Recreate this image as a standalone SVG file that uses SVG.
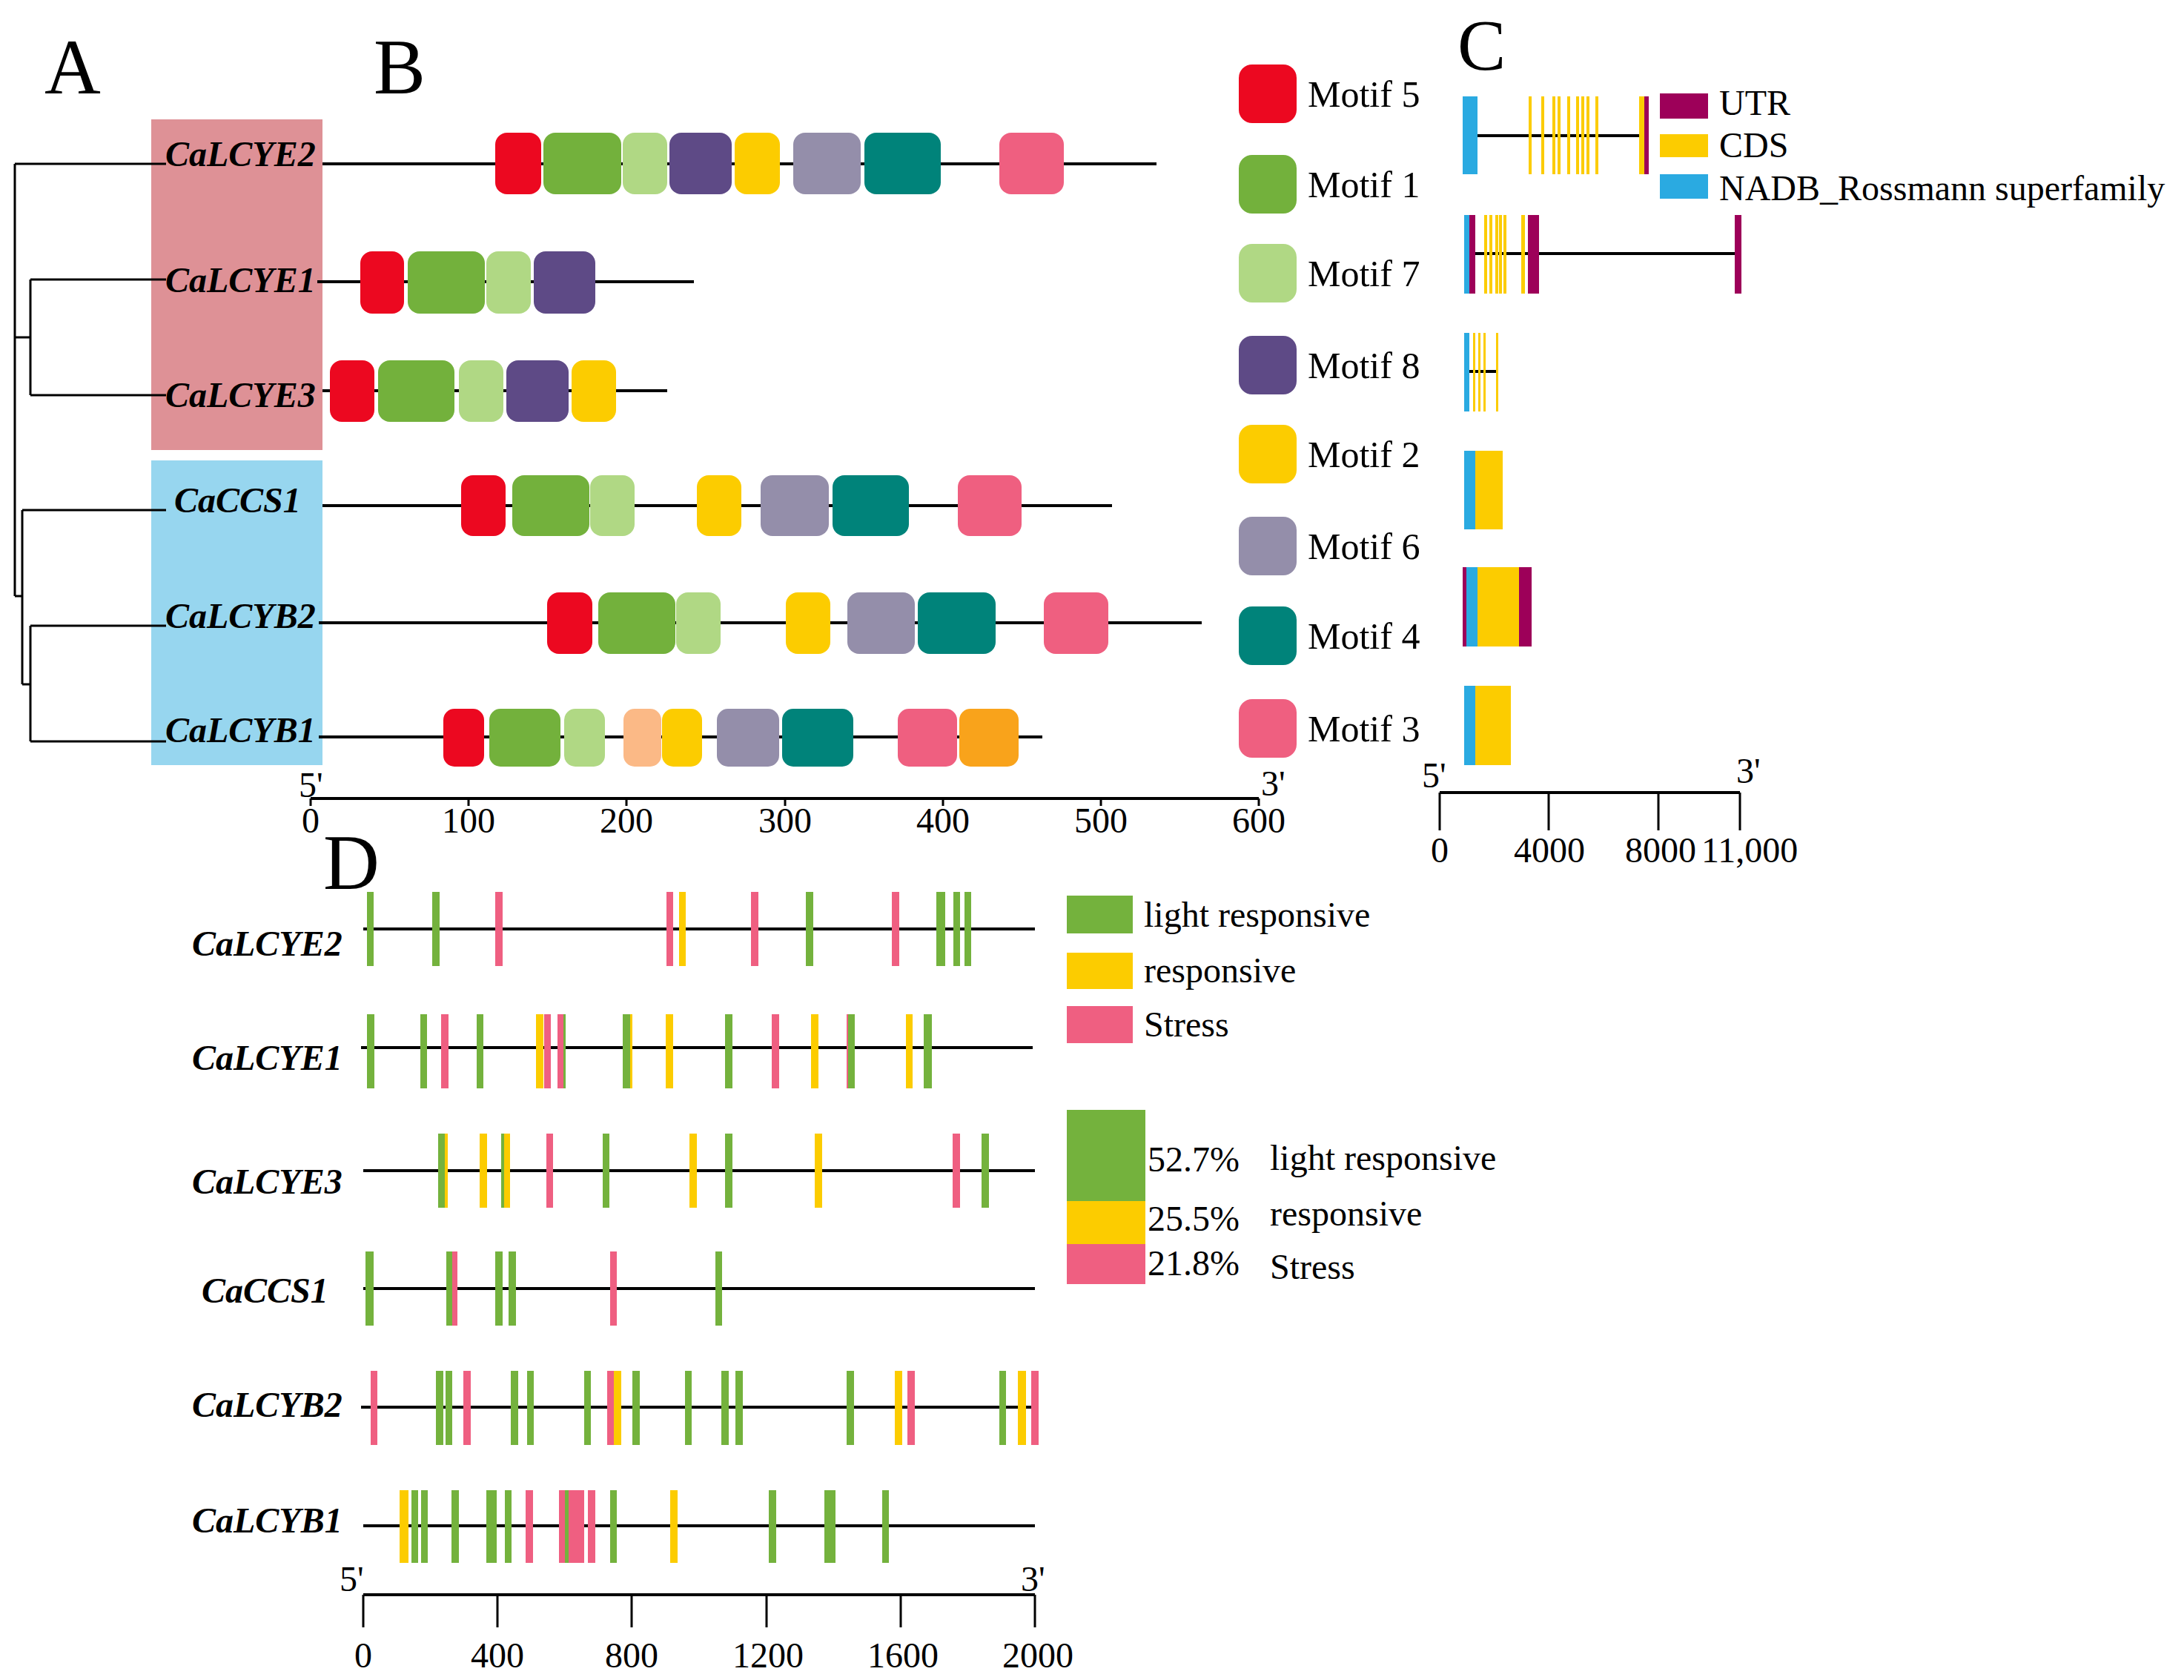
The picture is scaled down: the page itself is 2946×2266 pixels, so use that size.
<svg xmlns="http://www.w3.org/2000/svg" width="2946" height="2266" viewBox="0 0 2946 2266">
<style>
text{font-family:"Liberation Serif","Times New Roman",serif;fill:#000}
.pl{font-size:105px}
.gn{font-size:48px;font-weight:bold;font-style:italic}
.lg{font-size:50px}
.ax{font-size:48px}
.ln{stroke:#000;stroke-width:4;fill:none}
.tr{stroke:#000;stroke-width:3;fill:none}
.m5{fill:#EC0820}.m1{fill:#73B13C}.m7{fill:#B0D884}.m8{fill:#5E4A86}.m2{fill:#FCCC00}.m6{fill:#948EAA}.m4{fill:#00837A}.m3{fill:#EF5F80}.m9{fill:#FBB986}.m10{fill:#F9A31B}
.g{fill:#74B23D}.y{fill:#FCCC00}.p{fill:#EF5F81}.u{fill:#9D0059}.b{fill:#2AAAE1}
</style>
<rect width="2946" height="2266" fill="#fff"/>

<!-- panel letters -->
<text class="pl" x="60" y="126">A</text>
<text class="pl" x="504" y="126">B</text>
<text class="pl" x="1966" y="94" style="font-size:98px">C</text>
<text class="pl" x="436" y="1199">D</text>

<!-- clade boxes -->
<rect id="clade-E" x="204" y="161" width="231" height="446" fill="#DE9196"/>
<rect id="clade-B" x="204" y="621" width="231" height="411" fill="#97D6EF"/>

<!-- tree connectors -->
<g id="connectors" class="tr">
<path d="M20,221 V804"/>
<path d="M20,221 H224"/>
<path d="M20,455 H41"/>
<path d="M41,377 V533"/>
<path d="M41,377 H224"/>
<path d="M41,533 H224"/>
<path d="M20,804 H30"/>
<path d="M30,688 V923"/>
<path d="M30,688 H224"/>
<path d="M30,923 H41"/>
<path d="M41,844 V1000"/>
<path d="M41,844 H224"/>
<path d="M41,1000 H224"/>
</g>

<!-- panel A labels -->
<g id="labelsA">
<text class="gn" x="223" y="224">CaLCYE2</text>
<text class="gn" x="223" y="394">CaLCYE1</text>
<text class="gn" x="223" y="549">CaLCYE3</text>
<text class="gn" x="235" y="691">CaCCS1</text>
<text class="gn" x="223" y="847">CaLCYB2</text>
<text class="gn" x="223" y="1001">CaLCYB1</text>
</g>

<!-- panel B motifs -->
<g id="B-CaLCYE2">
<path class="ln" d="M435,221 H1560"/>
<rect class="m5" x="668" y="179" width="62" height="83" rx="16"/>
<rect class="m1" x="733" y="179" width="105" height="83" rx="16"/>
<rect class="m7" x="840" y="179" width="60" height="83" rx="16"/>
<rect class="m8" x="903" y="179" width="84" height="83" rx="16"/>
<rect class="m2" x="991" y="179" width="61" height="83" rx="16"/>
<rect class="m6" x="1070" y="179" width="91" height="83" rx="16"/>
<rect class="m4" x="1166" y="179" width="103" height="83" rx="16"/>
<rect class="m3" x="1348" y="179" width="87" height="83" rx="16"/>
</g>
<g id="B-CaLCYE1">
<path class="ln" d="M428,380 H936"/>
<rect class="m5" x="486" y="339" width="59" height="84" rx="16"/>
<rect class="m1" x="550" y="339" width="104" height="84" rx="16"/>
<rect class="m7" x="656" y="339" width="60" height="84" rx="16"/>
<rect class="m8" x="720" y="339" width="83" height="84" rx="16"/>
</g>
<g id="B-CaLCYE3">
<path class="ln" d="M435,527 H900"/>
<rect class="m5" x="445" y="486" width="60" height="83" rx="16"/>
<rect class="m1" x="510" y="486" width="103" height="83" rx="16"/>
<rect class="m7" x="619" y="486" width="60" height="83" rx="16"/>
<rect class="m8" x="683" y="486" width="84" height="83" rx="16"/>
<rect class="m2" x="771" y="486" width="60" height="83" rx="16"/>
</g>
<g id="B-CaCCS1">
<path class="ln" d="M435,682 H1500"/>
<rect class="m5" x="622" y="641" width="60" height="82" rx="16"/>
<rect class="m1" x="691" y="641" width="104" height="82" rx="16"/>
<rect class="m7" x="796" y="641" width="60" height="82" rx="16"/>
<rect class="m2" x="940" y="641" width="60" height="82" rx="16"/>
<rect class="m6" x="1026" y="641" width="92" height="82" rx="16"/>
<rect class="m4" x="1123" y="641" width="103" height="82" rx="16"/>
<rect class="m3" x="1292" y="641" width="86" height="82" rx="16"/>
</g>
<g id="B-CaLCYB2">
<path class="ln" d="M430,840 H1621"/>
<rect class="m5" x="738" y="799" width="61" height="83" rx="16"/>
<rect class="m1" x="807" y="799" width="104" height="83" rx="16"/>
<rect class="m7" x="912" y="799" width="60" height="83" rx="16"/>
<rect class="m2" x="1060" y="799" width="60" height="83" rx="16"/>
<rect class="m6" x="1143" y="799" width="91" height="83" rx="16"/>
<rect class="m4" x="1238" y="799" width="105" height="83" rx="16"/>
<rect class="m3" x="1408" y="799" width="87" height="83" rx="16"/>
</g>
<g id="B-CaLCYB1">
<path class="ln" d="M430,994 H1406"/>
<rect class="m5" x="598" y="956" width="55" height="78" rx="15"/>
<rect class="m1" x="660" y="956" width="96" height="78" rx="15"/>
<rect class="m7" x="761" y="956" width="55" height="78" rx="15"/>
<rect class="m9" x="841" y="956" width="51" height="78" rx="15"/>
<rect class="m2" x="893" y="956" width="54" height="78" rx="15"/>
<rect class="m6" x="967" y="956" width="84" height="78" rx="15"/>
<rect class="m4" x="1055" y="956" width="96" height="78" rx="15"/>
<rect class="m3" x="1211" y="956" width="80" height="78" rx="15"/>
<rect class="m10" x="1294" y="956" width="80" height="78" rx="15"/>
</g>

<!-- panel B axis -->
<g id="B-axis">
<path class="ln" d="M419,1077 H1698"/>
<path class="tr" d="M419,1077 v10 M632,1077 v10 M845,1077 v10 M1059,1077 v10 M1272,1077 v10 M1485,1077 v10 M1698,1077 v10"/>
<text class="ax" x="403" y="1075">5'</text>
<text class="ax" x="1701" y="1073">3'</text>
<g text-anchor="middle">
<text class="ax" x="419" y="1123">0</text>
<text class="ax" x="632" y="1123">100</text>
<text class="ax" x="845" y="1123">200</text>
<text class="ax" x="1059" y="1123">300</text>
<text class="ax" x="1272" y="1123">400</text>
<text class="ax" x="1485" y="1123">500</text>
<text class="ax" x="1698" y="1123">600</text>
</g>
</g>

<!-- motif legend -->
<g id="motif-legend">
<rect class="m5" x="1671" y="87" width="78" height="79" rx="18"/>
<rect class="m1" x="1671" y="209" width="78" height="79" rx="18"/>
<rect class="m7" x="1671" y="329" width="78" height="79" rx="18"/>
<rect class="m8" x="1671" y="453" width="78" height="79" rx="18"/>
<rect class="m2" x="1671" y="573" width="78" height="79" rx="18"/>
<rect class="m6" x="1671" y="697" width="78" height="79" rx="18"/>
<rect class="m4" x="1671" y="818" width="78" height="79" rx="18"/>
<rect class="m3" x="1671" y="943" width="78" height="79" rx="18"/>
<text class="lg" x="1764" y="144">Motif 5</text>
<text class="lg" x="1764" y="266">Motif 1</text>
<text class="lg" x="1764" y="386">Motif 7</text>
<text class="lg" x="1764" y="510">Motif 8</text>
<text class="lg" x="1764" y="630">Motif 2</text>
<text class="lg" x="1764" y="754">Motif 6</text>
<text class="lg" x="1764" y="875">Motif 4</text>
<text class="lg" x="1764" y="1000">Motif 3</text>
</g>

<!-- panel C gene structures -->
<g id="C-gene1">
<path class="ln" d="M1993,183 H2211"/>
<rect class="b" x="1973" y="130" width="20" height="105"/>
<rect class="y" x="2062" y="130" width="4" height="105"/>
<rect class="y" x="2079" y="130" width="4" height="105"/>
<rect class="y" x="2094" y="130" width="4" height="105"/>
<rect class="y" x="2101" y="130" width="4" height="105"/>
<rect class="y" x="2114" y="130" width="4" height="105"/>
<rect class="y" x="2126" y="130" width="4" height="105"/>
<rect class="y" x="2133" y="130" width="4" height="105"/>
<rect class="y" x="2140" y="130" width="4" height="105"/>
<rect class="y" x="2152" y="130" width="4" height="105"/>
<rect class="y" x="2211" y="130" width="7" height="105"/>
<rect class="u" x="2218" y="130" width="6" height="105"/>
</g>
<g id="C-gene2">
<path class="ln" d="M1975,342 H2345"/>
<rect class="b" x="1975" y="290" width="7" height="106"/>
<rect class="u" x="1982" y="290" width="8" height="106"/>
<rect class="y" x="2002" y="290" width="4" height="106"/>
<rect class="y" x="2009" y="290" width="4" height="106"/>
<rect class="y" x="2017" y="290" width="4" height="106"/>
<rect class="y" x="2022" y="290" width="4" height="106"/>
<rect class="y" x="2028" y="290" width="4" height="106"/>
<rect class="y" x="2052" y="290" width="5" height="106"/>
<rect class="u" x="2061" y="290" width="15" height="106"/>
<rect class="u" x="2340" y="290" width="9" height="106"/>
</g>
<g id="C-gene3">
<path class="ln" d="M1975,501 H2021"/>
<rect class="b" x="1975" y="449" width="7" height="106"/>
<rect class="y" x="1987" y="449" width="3" height="106"/>
<rect class="y" x="1994" y="449" width="3" height="106"/>
<rect class="y" x="2001" y="449" width="3" height="106"/>
<rect class="y" x="2018" y="449" width="3" height="106"/>
</g>
<g id="C-gene4">
<rect class="b" x="1975" y="608" width="15" height="106"/>
<rect class="y" x="1990" y="608" width="37" height="106"/>
</g>
<g id="C-gene5">
<rect class="u" x="1973" y="765" width="5" height="107"/>
<rect class="b" x="1978" y="765" width="15" height="107"/>
<rect class="y" x="1993" y="765" width="56" height="107"/>
<rect class="u" x="2049" y="765" width="17" height="107"/>
</g>
<g id="C-gene6">
<rect class="b" x="1975" y="925" width="15" height="107"/>
<rect class="y" x="1990" y="925" width="48" height="107"/>
</g>

<!-- panel C legend -->
<g id="C-legend">
<rect class="u" x="2239" y="126" width="65" height="34"/>
<rect class="y" x="2239" y="181" width="65" height="31"/>
<rect class="b" x="2239" y="235" width="65" height="33"/>
<text class="ax" x="2319" y="155">UTR</text>
<text class="ax" x="2319" y="212">CDS</text>
<text class="ax" x="2319" y="270">NADB_Rossmann superfamily</text>
</g>

<!-- panel C axis -->
<g id="C-axis">
<path class="ln" d="M1942,1069 H2347"/>
<path class="tr" d="M1942,1069 V1120 M2089,1069 V1120 M2237,1069 V1120 M2347,1069 V1120"/>
<text class="ax" x="1918" y="1062">5'</text>
<text class="ax" x="2342" y="1056">3'</text>
<text class="ax" x="1930" y="1163">0</text>
<text class="ax" x="2042" y="1163">4000</text>
<text class="ax" x="2192" y="1163">8000</text>
<text class="ax" x="2295" y="1163">11,000</text>
</g>

<!-- panel D labels -->
<g id="labelsD">
<text class="gn" x="259" y="1289">CaLCYE2</text>
<text class="gn" x="259" y="1443">CaLCYE1</text>
<text class="gn" x="259" y="1610">CaLCYE3</text>
<text class="gn" x="272" y="1757">CaCCS1</text>
<text class="gn" x="259" y="1911">CaLCYB2</text>
<text class="gn" x="259" y="2067">CaLCYB1</text>
</g>

<!-- panel D promoters -->
<g id="D-CaLCYE2">
<path class="ln" d="M490,1253 H1396"/>
<g transform="translate(0,1203)">
<rect class="g" x="495" width="9" height="100"/>
<rect class="g" x="583" width="10" height="100"/>
<rect class="p" x="668" width="10" height="100"/>
<rect class="p" x="899" width="9" height="100"/>
<rect class="y" x="916" width="9" height="100"/>
<rect class="p" x="1013" width="10" height="100"/>
<rect class="g" x="1087" width="10" height="100"/>
<rect class="p" x="1203" width="10" height="100"/>
<rect class="g" x="1263" width="12" height="100"/>
<rect class="g" x="1286" width="9" height="100"/>
<rect class="g" x="1301" width="9" height="100"/>
</g>
</g>
<g id="D-CaLCYE1">
<path class="ln" d="M487,1413 H1393"/>
<g transform="translate(0,1368)">
<rect class="g" x="495" width="10" height="100"/>
<rect class="g" x="567" width="9" height="100"/>
<rect class="p" x="595" width="10" height="100"/>
<rect class="g" x="643" width="9" height="100"/>
<rect class="y" x="723" width="10" height="100"/>
<rect class="p" x="734" width="9" height="100"/>
<rect class="g" x="752" width="11" height="100"/>
<rect class="p" x="752" width="8" height="100"/>
<rect class="y" x="849" width="4" height="100"/>
<rect class="g" x="840" width="10" height="100"/>
<rect class="y" x="898" width="10" height="100"/>
<rect class="g" x="978" width="10" height="100"/>
<rect class="p" x="1041" width="10" height="100"/>
<rect class="y" x="1094" width="10" height="100"/>
<rect class="p" x="1142" width="4" height="100"/>
<rect class="g" x="1144" width="9" height="100"/>
<rect class="y" x="1222" width="9" height="100"/>
<rect class="g" x="1246" width="11" height="100"/>
</g>
</g>
<g id="D-CaLCYE3">
<path class="ln" d="M490,1579 H1396"/>
<g transform="translate(0,1529)">
<rect class="y" x="599" width="5" height="100"/>
<rect class="g" x="591" width="9" height="100"/>
<rect class="y" x="647" width="10" height="100"/>
<rect class="g" x="676" width="5" height="100"/>
<rect class="y" x="680" width="8" height="100"/>
<rect class="p" x="737" width="9" height="100"/>
<rect class="g" x="813" width="9" height="100"/>
<rect class="y" x="930" width="10" height="100"/>
<rect class="g" x="978" width="10" height="100"/>
<rect class="y" x="1099" width="10" height="100"/>
<rect class="p" x="1285" width="10" height="100"/>
<rect class="g" x="1324" width="10" height="100"/>
</g>
</g>
<g id="D-CaCCS1">
<path class="ln" d="M490,1738 H1396"/>
<g transform="translate(0,1688)">
<rect class="g" x="493" width="11" height="100"/>
<rect class="p" x="609" width="8" height="100"/>
<rect class="g" x="602" width="8" height="100"/>
<rect class="g" x="668" width="10" height="100"/>
<rect class="g" x="686" width="10" height="100"/>
<rect class="p" x="823" width="9" height="100"/>
<rect class="g" x="965" width="9" height="100"/>
</g>
</g>
<g id="D-CaLCYB2">
<path class="ln" d="M487,1898 H1392"/>
<g transform="translate(0,1849)">
<rect class="p" x="500" width="9" height="100"/>
<rect class="g" x="588" width="10" height="100"/>
<rect class="g" x="601" width="9" height="100"/>
<rect class="p" x="625" width="10" height="100"/>
<rect class="g" x="689" width="10" height="100"/>
<rect class="g" x="711" width="9" height="100"/>
<rect class="g" x="788" width="9" height="100"/>
<rect class="p" x="819" width="9" height="100"/>
<rect class="y" x="828" width="10" height="100"/>
<rect class="g" x="853" width="10" height="100"/>
<rect class="g" x="924" width="9" height="100"/>
<rect class="g" x="973" width="10" height="100"/>
<rect class="g" x="992" width="10" height="100"/>
<rect class="g" x="1142" width="10" height="100"/>
<rect class="y" x="1207" width="10" height="100"/>
<rect class="p" x="1224" width="10" height="100"/>
<rect class="g" x="1348" width="9" height="100"/>
<rect class="y" x="1373" width="11" height="100"/>
<rect class="p" x="1391" width="10" height="100"/>
</g>
</g>
<g id="D-CaLCYB1">
<path class="ln" d="M490,2058 H1396"/>
<g transform="translate(0,2010)">
<rect class="y" x="539" width="12" height="98"/>
<rect class="g" x="555" width="9" height="98"/>
<rect class="g" x="568" width="9" height="98"/>
<rect class="g" x="609" width="10" height="98"/>
<rect class="g" x="656" width="14" height="98"/>
<rect class="g" x="681" width="9" height="98"/>
<rect class="p" x="709" width="10" height="98"/>
<rect class="p" x="754" width="8" height="98"/>
<rect class="g" x="762" width="5" height="98"/>
<rect class="p" x="767" width="21" height="98"/>
<rect class="p" x="793" width="10" height="98"/>
<rect class="g" x="823" width="9" height="98"/>
<rect class="y" x="904" width="10" height="98"/>
<rect class="g" x="1037" width="10" height="98"/>
<rect class="g" x="1112" width="15" height="98"/>
<rect class="g" x="1190" width="9" height="98"/>
</g>
</g>

<!-- panel D axis -->
<g id="D-axis">
<path class="ln" d="M490,2151 H1396"/>
<path class="tr" d="M490,2151 V2195 M671,2151 V2195 M852,2151 V2195 M1034,2151 V2195 M1215,2151 V2195 M1396,2151 V2195"/>
<text class="ax" x="458" y="2146">5'</text>
<text class="ax" x="1377" y="2146">3'</text>
<g text-anchor="middle">
<text class="ax" x="490" y="2249">0</text>
<text class="ax" x="671" y="2249">400</text>
<text class="ax" x="852" y="2249">800</text>
<text class="ax" x="1036" y="2249">1200</text>
<text class="ax" x="1218" y="2249">1600</text>
<text class="ax" x="1400" y="2249">2000</text>
</g>
</g>

<!-- panel D legends -->
<g id="D-legend1">
<rect class="g" x="1439" y="1208" width="89" height="51"/>
<rect class="y" x="1439" y="1285" width="89" height="49"/>
<rect class="p" x="1439" y="1357" width="89" height="50"/>
<text class="ax" x="1543" y="1250">light responsive</text>
<text class="ax" x="1543" y="1325">responsive</text>
<text class="ax" x="1543" y="1398">Stress</text>
</g>
<g id="D-legend2">
<rect class="g" x="1439" y="1497" width="106" height="123"/>
<rect class="y" x="1439" y="1620" width="106" height="58"/>
<rect class="p" x="1439" y="1678" width="106" height="54"/>
<text class="ax" x="1548" y="1580">52.7%</text>
<text class="ax" x="1548" y="1660">25.5%</text>
<text class="ax" x="1548" y="1720">21.8%</text>
<text class="ax" x="1713" y="1578">light responsive</text>
<text class="ax" x="1713" y="1653">responsive</text>
<text class="ax" x="1713" y="1725">Stress</text>
</g>
</svg>
